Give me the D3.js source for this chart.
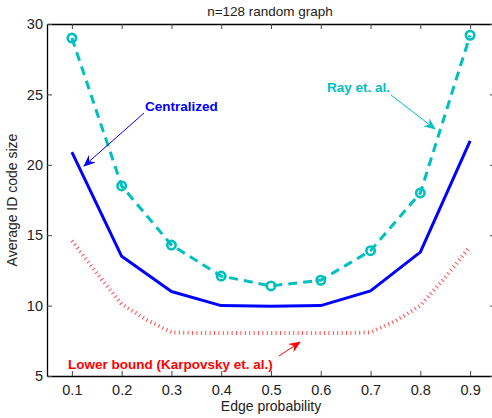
<!DOCTYPE html>
<html>
<head>
<meta charset="utf-8">
<script src="https://d3js.org/d3.v7.min.js"></script>
<style>
  body { margin: 0; background: #fff; }
  text { font-family: "Liberation Sans", Arial, sans-serif; }
</style>
</head>
<body>
<div id="chart"></div>
<script>
// Data
var probs = [0.1, 0.2, 0.3, 0.4, 0.5, 0.6, 0.7, 0.8, 0.9];
var centralized = [20.9, 13.5, 11.0, 10.0, 9.95, 10.0, 11.05, 13.8, 21.7];
var rayEtAl = [29.0, 18.5, 14.3, 12.1, 11.4, 11.8, 13.9, 18.0, 29.2];
var lowerProbs = [0.1, 0.15, 0.2, 0.25, 0.3, 0.35, 0.4, 0.45, 0.5, 0.55, 0.6, 0.65, 0.7, 0.75, 0.8, 0.85, 0.9];
var lowerBound = [14.6, 12.3, 10.1, 9.0, 8.1, 8.05, 8.05, 8.05, 8.05, 8.05, 8.05, 8.05, 8.1, 8.9, 10.0, 12.0, 14.2];
var xTicks = [0.1, 0.2, 0.3, 0.4, 0.5, 0.6, 0.7, 0.8, 0.9];
var yTicks = [5, 10, 15, 20, 25, 30];

var W = 492, H = 418;
var margin = {top: 24, right: -3, bottom: 42, left: 47};
var width = W - margin.left - margin.right;
var height = H - margin.top - margin.bottom;

var x = d3.scaleLinear().domain([0.05, 0.95]).range([0, width]);
var y = d3.scaleLinear().domain([5, 30]).range([height, 0]);

var svgRoot = d3.select("#chart").append("svg")
    .attr("width", W)
    .attr("height", H);

var svg = svgRoot.append("g")
    .attr("transform", "translate(" + margin.left + "," + margin.top + ")");

// arrow heads
var defs = svgRoot.append("defs");
function addMarker(id, color) {
  defs.append("marker")
      .attr("id", id)
      .attr("viewBox", "0 0 12 10")
      .attr("refX", 11)
      .attr("refY", 5)
      .attr("markerWidth", 12)
      .attr("markerHeight", 10)
      .attr("markerUnits", "userSpaceOnUse")
      .attr("orient", "auto")
    .append("path")
      .attr("d", "M0,0 L12,5 L0,10 L4,5 Z")
      .attr("fill", color);
}
addMarker("arrBlue", "#0000ff");
addMarker("arrCyan", "#00bfbf");
addMarker("arrRed", "#ff0000");

// axes: ticks point inwards, mirrored on top and right
svg.append("g")
    .attr("transform", "translate(0," + height + ")")
    .call(d3.axisBottom(x).tickValues(xTicks).tickSize(-5).tickSizeOuter(0).tickPadding(9)
      .tickFormat(d3.format(".1f")));

svg.append("g")
    .call(d3.axisTop(x).tickValues(xTicks).tickSize(-5).tickSizeOuter(0).tickFormat(""));

svg.append("g")
    .call(d3.axisLeft(y).tickValues(yTicks).tickSize(-5).tickSizeOuter(0).tickPadding(4));

svg.append("g")
    .attr("transform", "translate(" + width + ",0)")
    .call(d3.axisRight(y).tickValues(yTicks).tickSize(-5).tickSizeOuter(0).tickFormat(""));

svg.selectAll(".tick text")
    .style("font-size", "14.5px")
    .style("fill", "#222");
svg.selectAll(".domain").attr("stroke", "#000").attr("stroke-width", 1.3);
svg.selectAll(".tick line").attr("stroke", "#444");

// lines
var line = d3.line()
    .x(function(d) { return x(d[0]); })
    .y(function(d) { return y(d[1]); });

svg.append("path")
    .datum(lowerProbs.map(function(p, i) { return [p, lowerBound[i]]; }))
    .attr("d", line)
    .attr("fill", "none")
    .attr("stroke", "#ff3030")
    .attr("stroke-width", 4)
    .attr("stroke-dasharray", "1,3.4")
    .attr("opacity", 0.85);

svg.append("path")
    .datum(probs.map(function(p, i) { return [p, centralized[i]]; }))
    .attr("d", line)
    .attr("fill", "none")
    .attr("stroke", "#0000ff")
    .attr("stroke-width", 3)
    .attr("stroke-linejoin", "round");

svg.append("path")
    .datum(probs.map(function(p, i) { return [p, rayEtAl[i]]; }))
    .attr("d", line)
    .attr("fill", "none")
    .attr("stroke", "#00bfbf")
    .attr("stroke-width", 3)
    .attr("stroke-dasharray", "9,6");

svg.selectAll("circle.ray")
    .data(rayEtAl)
  .enter()
  .append("circle")
    .attr("class", "ray")
    .attr("cx", function(d, i) { return x(probs[i]); })
    .attr("cy", function(d) { return y(d); })
    .attr("r", 4.2)
    .attr("fill", "none")
    .attr("stroke", "#00bfbf")
    .attr("stroke-width", 2.6);

// annotations
function annotate(label, color, marker, tx, ty, x1, y1, x2, y2) {
  svgRoot.append("line")
      .attr("x1", x1).attr("y1", y1)
      .attr("x2", x2).attr("y2", y2)
      .attr("stroke", color)
      .attr("stroke-width", 1)
      .attr("marker-end", "url(#" + marker + ")");
  svgRoot.append("text")
      .attr("x", tx)
      .attr("y", ty)
      .style("font-size", "13.5px")
      .style("font-weight", "bold")
      .style("fill", color)
      .text(label);
}
annotate("Centralized", "#0000ff", "arrBlue", 145, 111, 144, 113, 84, 166);
annotate("Ray et. al.", "#00bfbf", "arrCyan", 327, 92, 391, 95, 435, 129);
annotate("Lower bound (Karpovsky et. al.)", "#ff0000", "arrRed", 68, 369, 279, 356, 300, 342);

// title and axis labels
svgRoot.append("text")
    .attr("x", 270)
    .attr("y", 16)
    .attr("text-anchor", "middle")
    .style("font-size", "13.5px")
    .style("fill", "#222")
    .text("n=128 random graph");

svgRoot.append("text")
    .attr("x", 271)
    .attr("y", 411)
    .attr("text-anchor", "middle")
    .style("font-size", "14px")
    .style("fill", "#222")
    .text("Edge probability");

svgRoot.append("text")
    .attr("transform", "translate(17," + (margin.top + height / 2) + ") rotate(-90)")
    .attr("text-anchor", "middle")
    .style("font-size", "14px")
    .style("fill", "#222")
    .text("Average ID code size");
</script>
</body>
</html>
